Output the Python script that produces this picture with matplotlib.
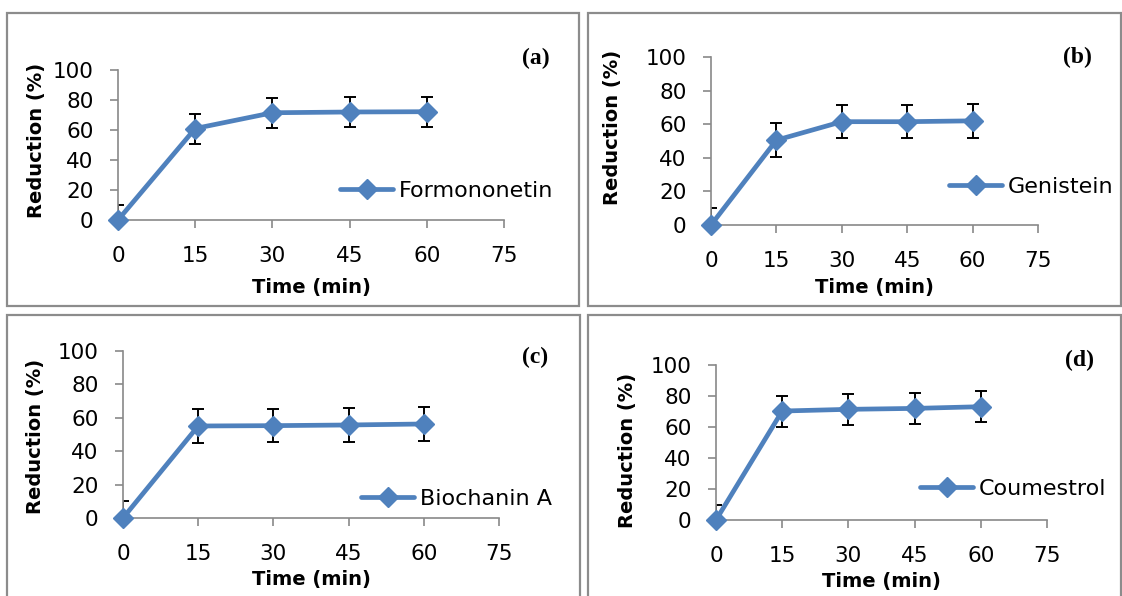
import matplotlib
matplotlib.use("Agg")
import matplotlib.pyplot as plt
from matplotlib.patches import Rectangle

W, H = 1122, 596

time_min = [0, 15, 30, 45, 60]
formononetin = [0, 61, 71.5, 72, 72.2]
genistein = [0, 50.5, 61.5, 61.5, 62]
biochanin_a = [0, 55.1, 55.3, 55.7, 56.3]
coumestrol = [0, 70.3, 71.4, 72, 73.1]
err = [10, 10, 10, 10, 10]

x_ticks = [0, 15, 30, 45, 60, 75]
y_ticks = [0, 20, 40, 60, 80, 100]

blue = '#4F81BD'
grey = '#898989'

# panel layout in pixels: box, axes (left, right, top, bottom), ylabel (right edge, center y),
# xlabel center y, legend (x, y), panel tag (x, y)
panels = [
    dict(name='Formononetin', y=formononetin, tag='(a)',
         box=(7, 13, 579, 306), ax=(118, 504, 70, 220),
         ylab=(46, 140), xlab=288, leg=(340, 191), tagpos=(536, 58)),
    dict(name='Genistein', y=genistein, tag='(b)',
         box=(588, 13, 1121, 306), ax=(711, 1038, 57, 225),
         ylab=(622, 127), xlab=288, leg=(949, 187), tagpos=(1077, 57)),
    dict(name='Biochanin A', y=biochanin_a, tag='(c)',
         box=(7, 315, 580, 640), ax=(123, 499, 351, 518),
         ylab=(45, 436), xlab=580, leg=(361, 499), tagpos=(535, 357)),
    dict(name='Coumestrol', y=coumestrol, tag='(d)',
         box=(588, 315, 1121, 640), ax=(716, 1047, 365, 520),
         ylab=(637, 450), xlab=581, leg=(920, 489), tagpos=(1079, 360)),
]

fig = plt.figure(figsize=(W / 100, H / 100), dpi=100)
fig.patch.set_facecolor('white')


def fx(px):
    return px / W


def fy(py):
    return 1 - py / H


for p in panels:
    bx0, by0, bx1, by1 = p['box']
    fig.patches.append(Rectangle((fx(bx0), fy(by1)), fx(bx1 - bx0), (by1 - by0) / H,
                                 transform=fig.transFigure, fill=False,
                                 edgecolor='#8c8c8c', linewidth=1.6, zorder=0))

    l, r, t, b = p['ax']
    ax = fig.add_axes([fx(l), fy(b), fx(r - l), (b - t) / H])
    ax.patch.set_alpha(0)

    ax.errorbar(time_min, p['y'], yerr=err, fmt='none', ecolor='black',
                elinewidth=1.4, capsize=4.5, capthick=1.4, zorder=2)
    ax.plot(time_min, p['y'], color=blue, linewidth=3.4, marker='D',
            markersize=10.5, label=p['name'], clip_on=False, zorder=3,
            solid_capstyle='round', solid_joinstyle='round')

    ax.set_xlim(0, 75)
    ax.set_ylim(0, 100)
    ax.set_xticks(x_ticks)
    ax.set_yticks(y_ticks)
    for s in ['top', 'right']:
        ax.spines[s].set_visible(False)
    for s in ['left', 'bottom']:
        ax.spines[s].set_color(grey)
        ax.spines[s].set_linewidth(1.2)
    ax.tick_params(axis='both', direction='out', length=6, width=1.2,
                   color=grey, labelsize=15.5, labelcolor='black')
    ax.tick_params(axis='x', pad=12.5)
    ax.tick_params(axis='y', pad=11.5)

    ax.set_ylabel('Reduction (%)', fontsize=14, fontweight='bold')
    ax.yaxis.set_label_coords(fx(p['ylab'][0]), fy(p['ylab'][1]), transform=fig.transFigure)
    ax.yaxis.label.set_va('bottom')
    ax.set_xlabel('Time (min)', fontsize=14, fontweight='bold')
    ax.xaxis.set_label_coords(fx((l + r) / 2), fy(p['xlab']), transform=fig.transFigure)
    ax.xaxis.label.set_va('center')

    ax.legend(loc='center left', bbox_to_anchor=(fx(p['leg'][0]), fy(p['leg'][1])),
              bbox_transform=fig.transFigure, frameon=False, fontsize=16,
              borderpad=0, borderaxespad=0, handlelength=2.4, handletextpad=0.25,
              numpoints=1)

    fig.text(fx(p['tagpos'][0]), fy(p['tagpos'][1]), p['tag'], ha='center', va='center',
             fontsize=17, fontweight='bold', family='Liberation Serif')

fig.savefig('out.png', dpi=100, facecolor='white')
